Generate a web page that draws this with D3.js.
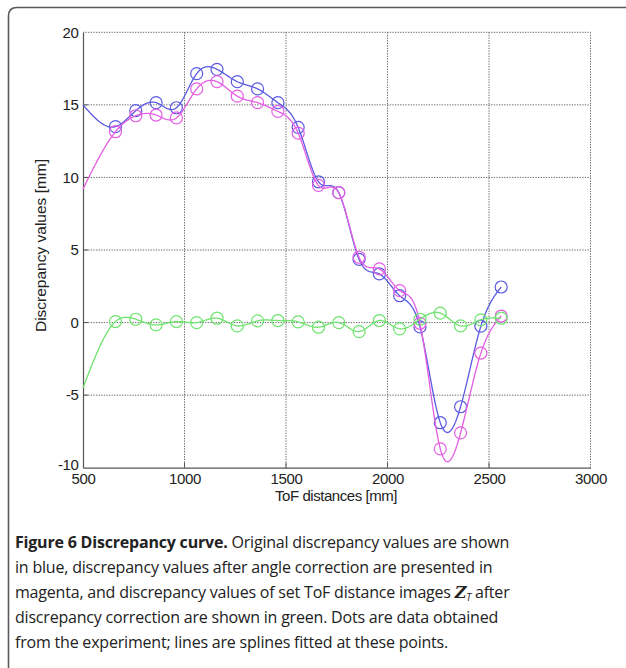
<!DOCTYPE html>
<html><head><meta charset="utf-8">
<script src="https://cdn.jsdelivr.net/npm/d3@7"></script>
<style>
html,body{margin:0;padding:0;background:#fff;}
svg{display:block;}
</style></head>
<body>
<svg id="c" width="626" height="668"></svg>
<script>
// ---- data ----
const xTicks = [500, 1000, 1500, 2000, 2500, 3000];
const yTicks = [-10, -5, 0, 5, 10, 15, 20];
const tofDistances = [660, 760, 860, 960, 1060, 1160, 1260, 1360, 1460, 1560, 1660, 1760, 1860, 1960, 2060, 2160, 2260, 2360, 2460, 2560];
const originalValues = [13.5, 14.6, 15.15, 14.8, 17.15, 17.45, 16.6, 16.1, 15.15, 13.45, 9.7, 8.95, 4.35, 3.35, 1.85, -0.3, -6.9, -5.8, -0.25, 2.45];
const angleCorrectedValues = [13.15, 14.25, 14.3, 14.1, 16.1, 16.6, 15.6, 15.15, 14.55, 13.05, 9.45, 8.95, 4.5, 3.7, 2.2, -0.05, -8.7, -7.6, -2.1, 0.45];
const correctedValues = [0.07, 0.23, -0.16, 0.07, 0.0, 0.3, -0.23, 0.12, 0.14, 0.05, -0.32, 0.0, -0.62, 0.14, -0.43, 0.23, 0.65, -0.23, 0.19, 0.3];
// spline values at the left edge of the plot (x = 500), where the fitted splines start
const splineStartX = 500;
const originalStart = 15.0;
const angleCorrectedStart = 9.2;
const correctedStart = -4.5;

const series = [
  {name: "original", values: originalValues, start: originalStart, color: "#5b5be3"},
  {name: "angle", values: angleCorrectedValues, start: angleCorrectedStart, color: "#e45ee4"},
  {name: "corrected", values: correctedValues, start: correctedStart, color: "#6ee46e"}
];

// ---- natural cubic spline ----
function naturalSpline(xs, ys) {
  const n = xs.length;
  const h = [], a = [], l = [1], mu = [0], z = [0], c = new Array(n).fill(0), b = [], d = [];
  for (let i = 0; i < n - 1; i++) h.push(xs[i+1] - xs[i]);
  for (let i = 1; i < n - 1; i++) a[i] = 3/h[i]*(ys[i+1]-ys[i]) - 3/h[i-1]*(ys[i]-ys[i-1]);
  for (let i = 1; i < n - 1; i++) {
    l[i] = 2*(xs[i+1]-xs[i-1]) - h[i-1]*mu[i-1];
    mu[i] = h[i]/l[i];
    z[i] = (a[i] - h[i-1]*z[i-1])/l[i];
  }
  l[n-1] = 1; z[n-1] = 0; c[n-1] = 0;
  for (let j = n - 2; j >= 0; j--) {
    c[j] = z[j] - mu[j]*c[j+1];
    b[j] = (ys[j+1]-ys[j])/h[j] - h[j]*(c[j+1]+2*c[j])/3;
    d[j] = (c[j+1]-c[j])/(3*h[j]);
  }
  return function(x) {
    let i = 0;
    while (i < n - 2 && x > xs[i+1]) i++;
    const dx = x - xs[i];
    return ys[i] + b[i]*dx + c[i]*dx*dx + d[i]*dx*dx*dx;
  };
}

// ---- layout ----
const svg = d3.select("#c");
const x = d3.scaleLinear().domain([500, 3000]).range([83, 590.5]);
const y = d3.scaleLinear().domain([-10, 20]).range([467.7, 32.3]);

// outer frame (rounded, runs off right and bottom)
svg.append("path")
  .attr("d", "M 8.5 680 L 8.5 16 Q 8.5 7.5 17 7.5 L 640 7.5")
  .attr("fill", "none").attr("stroke", "#5a5a5a").attr("stroke-width", 1.6);

const g = svg.append("g");
// grid
g.selectAll(".vg").data(xTicks.slice(1)).enter().append("line")
  .attr("x1", d => x(d)).attr("x2", d => x(d)).attr("y1", y(20)).attr("y2", y(-10))
  .attr("stroke", "#666").attr("stroke-width", 1).attr("stroke-dasharray", "1.3,1.3");
g.selectAll(".hg").data(yTicks.slice(1)).enter().append("line")
  .attr("x1", x(500)).attr("x2", x(3000)).attr("y1", d => y(d)).attr("y2", d => y(d))
  .attr("stroke", "#666").attr("stroke-width", 1).attr("stroke-dasharray", "1.3,1.3");

// axes
const fontAx = "'Liberation Sans', Arial, sans-serif";
const fmt = d => String(d);
const xAxis = d3.axisBottom(x).tickValues(xTicks).tickSize(0).tickPadding(5.5).tickFormat(fmt);
const yAxis = d3.axisLeft(y).tickValues(yTicks).tickSize(0).tickPadding(4.5).tickFormat(fmt);
const gx = svg.append("g").attr("transform", `translate(0,${y(-10)})`).call(xAxis);
const gy = svg.append("g").attr("transform", `translate(${x(500)},0)`).call(yAxis);
[gx, gy].forEach(a => {
  a.select(".domain").attr("stroke", "#555").attr("stroke-width", 1.2);
  a.selectAll("text").attr("font-family", fontAx).attr("font-size", 15).attr("fill", "#222")
    .attr("letter-spacing", "-0.4px");
});
gy.selectAll(".tick text").filter(d => d === -10).attr("dy", "0.1em");
// inward tick marks
svg.append("g").selectAll("line").data(xTicks.slice(1, -1)).enter().append("line")
  .attr("x1", d => x(d)).attr("x2", d => x(d)).attr("y1", y(-10)).attr("y2", y(-10) - 5)
  .attr("stroke", "#555").attr("stroke-width", 1);
svg.append("g").selectAll("line").data(yTicks.slice(1, -1)).enter().append("line")
  .attr("x1", x(500)).attr("x2", x(500) + 5).attr("y1", d => y(d)).attr("y2", d => y(d))
  .attr("stroke", "#555").attr("stroke-width", 1);

// axis titles
svg.append("text").attr("x", 336).attr("y", 500.5).attr("text-anchor", "middle")
  .attr("font-family", fontAx).attr("font-size", 15).attr("letter-spacing", "-0.45px").attr("fill", "#222")
  .text("ToF distances [mm]");
svg.append("text").attr("transform", "translate(46,245.5) rotate(-90)").attr("text-anchor", "middle")
  .attr("font-family", fontAx).attr("font-size", 15.5).attr("fill", "#222")
  .text("Discrepancy values [mm]");

// lines & points
const line = d3.line().x(d => x(d[0])).y(d => y(d[1]));
series.forEach(s => {
  const xs = [splineStartX].concat(tofDistances);
  const ys = [s.start].concat(s.values);
  const f = naturalSpline(xs, ys);
  const pts = d3.range(splineStartX, tofDistances[tofDistances.length - 1] + 0.01, 4).map(v => [v, f(v)]);
  svg.append("path").datum(pts).attr("d", line).attr("fill", "none")
    .attr("stroke", s.color).attr("stroke-width", 1.3);
  svg.append("g").selectAll("circle").data(tofDistances.map((t, i) => [t, s.values[i]])).enter()
    .append("circle").attr("cx", d => x(d[0])).attr("cy", d => y(d[1])).attr("r", 6)
    .attr("fill", "none").attr("stroke", s.color).attr("stroke-width", 1.2);
});

// caption
const capFont = "'Open Sans', 'Noto Sans', sans-serif";
const capLines = [
  [["Figure 6 Discrepancy curve.", true], [" Original discrepancy values are shown", false]],
  [["in blue, discrepancy values after angle correction are presented in", false]],
  [["magenta, and discrepancy values of set ToF distance images ", false]],
  [["discrepancy correction are shown in green. Dots are data obtained", false]],
  [["from the experiment; lines are splines fitted at these points.", false]]
];
capLines.forEach((ln, i) => {
  const t = svg.append("text").attr("x", 15).attr("y", 548 + i * 25)
    .attr("font-family", capFont).attr("font-size", 16)
    .attr("fill", "#222").attr("letter-spacing", "-0.2px");
  ln.forEach(([txt, bold]) => t.append("tspan").attr("font-weight", bold ? "bold" : "normal").text(txt));
  if (i === 2) {
    t.append("tspan").attr("font-weight", "bold").attr("font-style", "italic")
      .attr("font-family", "'DejaVu Serif', serif").text("\uD835\uDC81");
    t.append("tspan").attr("font-style", "italic").attr("font-size", 10).attr("dy", 3).text("T");
    t.append("tspan").attr("dy", -3).text(" after");
  }
});
</script>
</body></html>
